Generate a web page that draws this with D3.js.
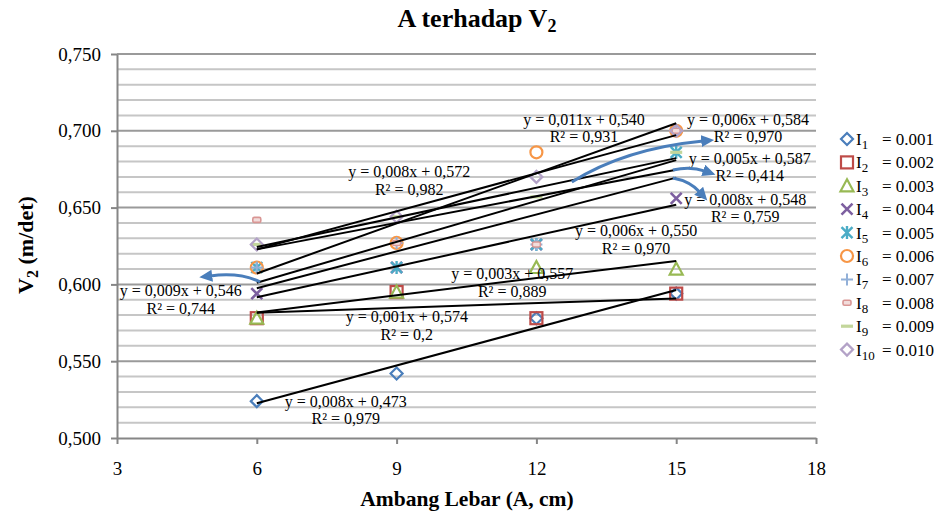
<!DOCTYPE html>
<html><head><meta charset="utf-8">
<script src="https://cdn.jsdelivr.net/npm/d3@7"></script>
<style>
body{margin:0;background:#fff}
svg text{font-family:"Liberation Serif","Times New Roman",Tinos,"DejaVu Serif",serif !important;fill:#000}
</style>
</head><body>
<svg id="chart" width="945" height="513" style="font-family:'Liberation Serif','DejaVu Serif',serif"></svg>
<script>
// ---------------- DATA ----------------
const xValues = [6, 9, 12, 15];
const seriesSub = ["1","2","3","4","5","6","7","8","9","10"];
const seriesLevel = ["0.001","0.002","0.003","0.004","0.005","0.006","0.007","0.008","0.009","0.010"];
const I1  = [0.524, 0.542, 0.578, 0.594];
const I2  = [0.578, 0.595, 0.578, 0.594];
const I3  = [0.578, 0.595, 0.611, 0.610];
const I4  = [0.594, 0.611, 0.626, 0.656];
const I5  = [0.611, 0.611, 0.626, 0.686];
const I6  = [0.611, 0.627, 0.686, 0.700];
const I7  = [0.611, 0.627, 0.626, 0.700];
const I8  = [0.642, 0.627, 0.626, 0.700];
const I9  = [0.626, 0.644, 0.657, 0.686];
const I10 = [0.626, 0.644, 0.670, 0.700];
const seriesValues = [I1, I2, I3, I4, I5, I6, I7, I8, I9, I10];
const trendEq = ["y = 0,008x + 0,473","y = 0,001x + 0,574","y = 0,003x + 0,557","y = 0,006x + 0,550","y = 0,008x + 0,548",
                 "y = 0,011x + 0,540","y = 0,009x + 0,546","y = 0,005x + 0,587","y = 0,006x + 0,584","y = 0,008x + 0,572"];
const trendR2 = ["R² = 0,979","R² = 0,2","R² = 0,889","R² = 0,970","R² = 0,759",
                 "R² = 0,931","R² = 0,744","R² = 0,414","R² = 0,970","R² = 0,982"];
const xTicks = [3, 6, 9, 12, 15, 18];
const yTicks = [0.500, 0.550, 0.600, 0.650, 0.700, 0.750];
const yTickLabels = ["0,500","0,550","0,600","0,650","0,700","0,750"];

// ---------------- LAYOUT ----------------
const FONT = "'Liberation Serif','DejaVu Serif',serif";
const plot = {left:117, right:816, top:54, bottom:438};
// label anchors (data coordinates), first-line baseline
const labelPos = [[7.91,0.5202],[9.22,0.5755],[11.48,0.6035],[14.14,0.6315],[16.48,0.6517],
                  [13.02,0.7038],[4.37,0.5924],[16.58,0.6784],[16.54,0.7038],[9.27,0.6699]];
// annotation arrows (data coordinates): start, control, end
const arrows = [
  [[12.76,0.6667],[13.9,0.6885],[15.58,0.6934]],
  [[14.93,0.6745],[15.3,0.6772],[15.62,0.6738]],
  [[14.93,0.6693],[15.3,0.6672],[15.51,0.6600]],
  [[6.07,0.6016],[5.64,0.6080],[5.0,0.6055]]
];
const colors = ["#4a7ebb","#be4b48","#98b954","#7d5fa0","#4bacc6","#f79646","#92b0d8","#d99694","#c3d69b","#b3a2c7"];

const svg = d3.select("#chart");
const x = d3.scaleLinear().domain([3,18]).range([plot.left, plot.right]);
const y = d3.scaleLinear().domain([0.5,0.75]).range([plot.bottom, plot.top]);

// gridlines
const grid = d3.range(1,26).map(i => ({v: 0.5 + i*0.01, major: i%5===0}));
svg.append("g").selectAll("line").data(grid.filter(d=>!d.major)).join("line")
  .attr("x1", plot.left).attr("x2", plot.right)
  .attr("y1", d=>y(d.v)).attr("y2", d=>y(d.v))
  .attr("stroke","#c6c6c6").attr("stroke-width",2);
svg.append("g").selectAll("line").data(grid.filter(d=>d.major)).join("line")
  .attr("x1", plot.left).attr("x2", plot.right)
  .attr("y1", d=>y(d.v)).attr("y2", d=>y(d.v))
  .attr("stroke","#9a9a9a").attr("stroke-width",2);

// axes
const yAxis = svg.append("g").attr("transform",`translate(${plot.left},0)`)
  .call(d3.axisLeft(y).tickValues(yTicks).tickFormat((d,i)=>yTickLabels[i]).tickSize(6).tickSizeOuter(0).tickPadding(10));
const xAxis = svg.append("g").attr("transform",`translate(0,${plot.bottom})`)
  .call(d3.axisBottom(x).tickValues(xTicks).tickSize(6).tickSizeOuter(0).tickPadding(18));
[yAxis, xAxis].forEach(a => {
  a.attr("font-family", FONT);
  a.select(".domain").attr("stroke","#868686").attr("stroke-width",2);
  a.selectAll(".tick line").attr("stroke","#868686").attr("stroke-width",2);
  a.selectAll(".tick text").attr("font-size",19).style("font-family",FONT).attr("fill","#000");
});

// markers
function drawMarker(g, k, cx, cy){
  const c = colors[k];
  switch(k){
    case 0: case 9:
      g.append("path").attr("d",`M${cx},${cy-6}L${cx+6},${cy}L${cx},${cy+6}L${cx-6},${cy}Z`)
        .attr("fill","none").attr("stroke",c).attr("stroke-width",2.2); break;
    case 1:
      g.append("rect").attr("x",cx-6).attr("y",cy-6).attr("width",12).attr("height",12)
        .attr("fill","none").attr("stroke",c).attr("stroke-width",2.2); break;
    case 2:
      g.append("path").attr("d",`M${cx},${cy-6.5}L${cx+6.5},${cy+5.5}L${cx-6.5},${cy+5.5}Z`)
        .attr("fill","none").attr("stroke",c).attr("stroke-width",2.2); break;
    case 3:
      g.append("path").attr("d",`M${cx-5.5},${cy-5.5}L${cx+5.5},${cy+5.5}M${cx+5.5},${cy-5.5}L${cx-5.5},${cy+5.5}`)
        .attr("stroke",c).attr("stroke-width",2.6); break;
    case 4:
      g.append("path").attr("d",`M${cx-5.5},${cy-5.5}L${cx+5.5},${cy+5.5}M${cx+5.5},${cy-5.5}L${cx-5.5},${cy+5.5}M${cx},${cy-6.5}L${cx},${cy+6.5}`)
        .attr("stroke",c).attr("stroke-width",2.4); break;
    case 5:
      g.append("circle").attr("cx",cx).attr("cy",cy).attr("r",6)
        .attr("fill","none").attr("stroke",c).attr("stroke-width",2.2); break;
    case 6:
      g.append("path").attr("d",`M${cx-6},${cy}L${cx+6},${cy}M${cx},${cy-6}L${cx},${cy+6}`)
        .attr("stroke",c).attr("stroke-width",2); break;
    case 7:
      g.append("rect").attr("x",cx-4).attr("y",cy-2.5).attr("width",8).attr("height",5).attr("rx",1.5)
        .attr("fill","#f2dcdb").attr("stroke",c).attr("stroke-width",1.6); break;
    case 8:
      g.append("path").attr("d",`M${cx-6},${cy}L${cx+6},${cy}`)
        .attr("stroke",c).attr("stroke-width",3.2); break;
  }
}
const mg = svg.append("g");
seriesValues.forEach((vals,k) => {
  vals.forEach((v,i) => drawMarker(mg, k, x(xValues[i]), y(v)));
});

// linear trendlines (least squares of each series)
const tg = svg.append("g");
seriesValues.forEach((vals) => {
  const mx = d3.mean(xValues), my = d3.mean(vals);
  const sxy = d3.sum(xValues.map((xv,i)=>(xv-mx)*(vals[i]-my)));
  const sxx = d3.sum(xValues.map(xv=>(xv-mx)*(xv-mx)));
  const b = sxy/sxx, a = my - b*mx;
  const x0 = d3.min(xValues), x1 = d3.max(xValues);
  tg.append("line").attr("x1",x(x0)).attr("y1",y(a+b*x0)).attr("x2",x(x1)).attr("y2",y(a+b*x1))
    .attr("stroke","#000").attr("stroke-width",2);
});

// trend labels
const lg = svg.append("g").attr("font-size",16).attr("text-anchor","middle");
labelPos.forEach((p,k) => {
  const px = x(p[0]), py = y(p[1]);
  lg.append("text").attr("x",px).attr("y",py).text(trendEq[k]);
  lg.append("text").attr("x",px).attr("y",py+17.5).text(trendR2[k]);
});

// arrows
svg.append("defs").append("marker").attr("id","ah").attr("markerUnits","userSpaceOnUse")
  .attr("markerWidth",14).attr("markerHeight",12).attr("refX",2).attr("refY",6).attr("orient","auto")
  .append("path").attr("d","M0,0L13,6L0,12Z").attr("fill","#4a7ebb");
svg.append("g").selectAll("path").data(arrows).join("path")
  .attr("d", d => `M${x(d[0][0])},${y(d[0][1])}Q${x(d[1][0])},${y(d[1][1])} ${x(d[2][0])},${y(d[2][1])}`)
  .attr("fill","none").attr("stroke","#4a7ebb").attr("stroke-width",3).attr("marker-end","url(#ah)");

// legend
const leg = svg.append("g");
seriesSub.forEach((s,k) => {
  const ly = 139 + k*23.4;
  drawMarker(leg, k, 847, ly);
  const t = leg.append("text").attr("x",856).attr("y",ly+6).attr("font-size",17);
  t.append("tspan").text("I");
  t.append("tspan").attr("font-size",13).attr("dy",4).text(s);
  t.append("tspan").attr("x",882).attr("dy",-4).text("= " + seriesLevel[k]);
});

// titles
const title = svg.append("text").attr("x",477).attr("y",27).attr("text-anchor","middle")
  .attr("font-size",26).attr("font-weight","bold");
title.append("tspan").text("A terhadap V");
title.append("tspan").attr("font-size",18).attr("dy",5).text("2");

svg.append("text").attr("x",467).attr("y",506).attr("text-anchor","middle")
  .attr("font-size",21.5).attr("font-weight","bold").text("Ambang Lebar (A, cm)");

const yt = svg.append("text").attr("transform","translate(33,245) rotate(-90)").attr("text-anchor","middle")
  .attr("font-size",22).attr("font-weight","bold");
yt.append("tspan").text("V");
yt.append("tspan").attr("font-size",16).attr("dy",5).text("2");
yt.append("tspan").attr("dy",-5).text(" (m/det)");
</script>
</body></html>
